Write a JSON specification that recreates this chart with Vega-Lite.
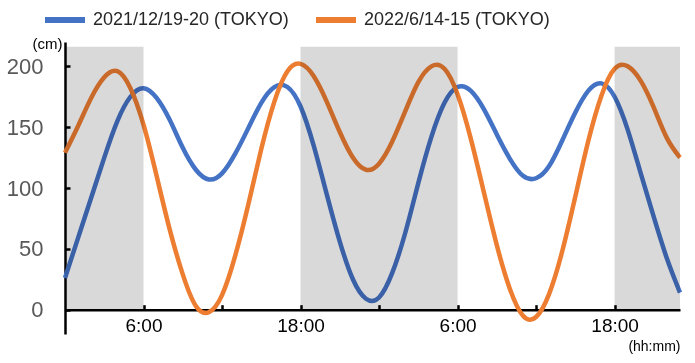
{
  "$schema": "https://vega.github.io/schema/vega-lite/v6.json",
  "width": 615,
  "height": 292,
  "autosize": {"type": "none"},
  "padding": {"left": 65, "top": 42, "right": 15, "bottom": 29},
  "config": {
    "font": "Liberation Sans",
    "view": {"stroke": null},
    "axis": {"grid": false, "zindex": 1}
  },
  "layer": [
    {
      "data": {
        "values": [
          {"hour": 0, "series": "2021/12/19-20 (TOKYO)", "cm": 26},
          {"hour": 1, "series": "2021/12/19-20 (TOKYO)", "cm": 59},
          {"hour": 2, "series": "2021/12/19-20 (TOKYO)", "cm": 92},
          {"hour": 3, "series": "2021/12/19-20 (TOKYO)", "cm": 125},
          {"hour": 4, "series": "2021/12/19-20 (TOKYO)", "cm": 155},
          {"hour": 5, "series": "2021/12/19-20 (TOKYO)", "cm": 175},
          {"hour": 6, "series": "2021/12/19-20 (TOKYO)", "cm": 182},
          {"hour": 7, "series": "2021/12/19-20 (TOKYO)", "cm": 174},
          {"hour": 8, "series": "2021/12/19-20 (TOKYO)", "cm": 156},
          {"hour": 9, "series": "2021/12/19-20 (TOKYO)", "cm": 133},
          {"hour": 10, "series": "2021/12/19-20 (TOKYO)", "cm": 115},
          {"hour": 11, "series": "2021/12/19-20 (TOKYO)", "cm": 107},
          {"hour": 12, "series": "2021/12/19-20 (TOKYO)", "cm": 112},
          {"hour": 13, "series": "2021/12/19-20 (TOKYO)", "cm": 128},
          {"hour": 14, "series": "2021/12/19-20 (TOKYO)", "cm": 149},
          {"hour": 15, "series": "2021/12/19-20 (TOKYO)", "cm": 170},
          {"hour": 16, "series": "2021/12/19-20 (TOKYO)", "cm": 183},
          {"hour": 17, "series": "2021/12/19-20 (TOKYO)", "cm": 183},
          {"hour": 18, "series": "2021/12/19-20 (TOKYO)", "cm": 167},
          {"hour": 19, "series": "2021/12/19-20 (TOKYO)", "cm": 135},
          {"hour": 20, "series": "2021/12/19-20 (TOKYO)", "cm": 95},
          {"hour": 21, "series": "2021/12/19-20 (TOKYO)", "cm": 56},
          {"hour": 22, "series": "2021/12/19-20 (TOKYO)", "cm": 25},
          {"hour": 23, "series": "2021/12/19-20 (TOKYO)", "cm": 9},
          {"hour": 24, "series": "2021/12/19-20 (TOKYO)", "cm": 10},
          {"hour": 25, "series": "2021/12/19-20 (TOKYO)", "cm": 30},
          {"hour": 26, "series": "2021/12/19-20 (TOKYO)", "cm": 63},
          {"hour": 27, "series": "2021/12/19-20 (TOKYO)", "cm": 104},
          {"hour": 28, "series": "2021/12/19-20 (TOKYO)", "cm": 142},
          {"hour": 29, "series": "2021/12/19-20 (TOKYO)", "cm": 170},
          {"hour": 30, "series": "2021/12/19-20 (TOKYO)", "cm": 183},
          {"hour": 31, "series": "2021/12/19-20 (TOKYO)", "cm": 180},
          {"hour": 32, "series": "2021/12/19-20 (TOKYO)", "cm": 165},
          {"hour": 33, "series": "2021/12/19-20 (TOKYO)", "cm": 144},
          {"hour": 34, "series": "2021/12/19-20 (TOKYO)", "cm": 124},
          {"hour": 35, "series": "2021/12/19-20 (TOKYO)", "cm": 110},
          {"hour": 36, "series": "2021/12/19-20 (TOKYO)", "cm": 108},
          {"hour": 37, "series": "2021/12/19-20 (TOKYO)", "cm": 118},
          {"hour": 38, "series": "2021/12/19-20 (TOKYO)", "cm": 139},
          {"hour": 39, "series": "2021/12/19-20 (TOKYO)", "cm": 162},
          {"hour": 40, "series": "2021/12/19-20 (TOKYO)", "cm": 180},
          {"hour": 41, "series": "2021/12/19-20 (TOKYO)", "cm": 186},
          {"hour": 42, "series": "2021/12/19-20 (TOKYO)", "cm": 175},
          {"hour": 43, "series": "2021/12/19-20 (TOKYO)", "cm": 148},
          {"hour": 44, "series": "2021/12/19-20 (TOKYO)", "cm": 112},
          {"hour": 45, "series": "2021/12/19-20 (TOKYO)", "cm": 76},
          {"hour": 46, "series": "2021/12/19-20 (TOKYO)", "cm": 42},
          {"hour": 47, "series": "2021/12/19-20 (TOKYO)", "cm": 14},
          {"hour": 0, "series": "2022/6/14-15 (TOKYO)", "cm": 129},
          {"hour": 1, "series": "2022/6/14-15 (TOKYO)", "cm": 151},
          {"hour": 2, "series": "2022/6/14-15 (TOKYO)", "cm": 174},
          {"hour": 3, "series": "2022/6/14-15 (TOKYO)", "cm": 191},
          {"hour": 4, "series": "2022/6/14-15 (TOKYO)", "cm": 196},
          {"hour": 5, "series": "2022/6/14-15 (TOKYO)", "cm": 182},
          {"hour": 6, "series": "2022/6/14-15 (TOKYO)", "cm": 152},
          {"hour": 7, "series": "2022/6/14-15 (TOKYO)", "cm": 110},
          {"hour": 8, "series": "2022/6/14-15 (TOKYO)", "cm": 66},
          {"hour": 9, "series": "2022/6/14-15 (TOKYO)", "cm": 29},
          {"hour": 10, "series": "2022/6/14-15 (TOKYO)", "cm": 3},
          {"hour": 11, "series": "2022/6/14-15 (TOKYO)", "cm": -2},
          {"hour": 12, "series": "2022/6/14-15 (TOKYO)", "cm": 12},
          {"hour": 13, "series": "2022/6/14-15 (TOKYO)", "cm": 44},
          {"hour": 14, "series": "2022/6/14-15 (TOKYO)", "cm": 86},
          {"hour": 15, "series": "2022/6/14-15 (TOKYO)", "cm": 132},
          {"hour": 16, "series": "2022/6/14-15 (TOKYO)", "cm": 171},
          {"hour": 17, "series": "2022/6/14-15 (TOKYO)", "cm": 196},
          {"hour": 18, "series": "2022/6/14-15 (TOKYO)", "cm": 202},
          {"hour": 19, "series": "2022/6/14-15 (TOKYO)", "cm": 192},
          {"hour": 20, "series": "2022/6/14-15 (TOKYO)", "cm": 171},
          {"hour": 21, "series": "2022/6/14-15 (TOKYO)", "cm": 146},
          {"hour": 22, "series": "2022/6/14-15 (TOKYO)", "cm": 125},
          {"hour": 23, "series": "2022/6/14-15 (TOKYO)", "cm": 115},
          {"hour": 24, "series": "2022/6/14-15 (TOKYO)", "cm": 120},
          {"hour": 25, "series": "2022/6/14-15 (TOKYO)", "cm": 138},
          {"hour": 26, "series": "2022/6/14-15 (TOKYO)", "cm": 163},
          {"hour": 27, "series": "2022/6/14-15 (TOKYO)", "cm": 187},
          {"hour": 28, "series": "2022/6/14-15 (TOKYO)", "cm": 200},
          {"hour": 29, "series": "2022/6/14-15 (TOKYO)", "cm": 198},
          {"hour": 30, "series": "2022/6/14-15 (TOKYO)", "cm": 177},
          {"hour": 31, "series": "2022/6/14-15 (TOKYO)", "cm": 141},
          {"hour": 32, "series": "2022/6/14-15 (TOKYO)", "cm": 97},
          {"hour": 33, "series": "2022/6/14-15 (TOKYO)", "cm": 53},
          {"hour": 34, "series": "2022/6/14-15 (TOKYO)", "cm": 17},
          {"hour": 35, "series": "2022/6/14-15 (TOKYO)", "cm": -5},
          {"hour": 36, "series": "2022/6/14-15 (TOKYO)", "cm": -6},
          {"hour": 37, "series": "2022/6/14-15 (TOKYO)", "cm": 13},
          {"hour": 38, "series": "2022/6/14-15 (TOKYO)", "cm": 48},
          {"hour": 39, "series": "2022/6/14-15 (TOKYO)", "cm": 93},
          {"hour": 40, "series": "2022/6/14-15 (TOKYO)", "cm": 139},
          {"hour": 41, "series": "2022/6/14-15 (TOKYO)", "cm": 176},
          {"hour": 42, "series": "2022/6/14-15 (TOKYO)", "cm": 198},
          {"hour": 43, "series": "2022/6/14-15 (TOKYO)", "cm": 200},
          {"hour": 44, "series": "2022/6/14-15 (TOKYO)", "cm": 188},
          {"hour": 45, "series": "2022/6/14-15 (TOKYO)", "cm": 166},
          {"hour": 46, "series": "2022/6/14-15 (TOKYO)", "cm": 141},
          {"hour": 47, "series": "2022/6/14-15 (TOKYO)", "cm": 125}
        ]
      },
      "mark": {"type": "line", "interpolate": "natural", "strokeWidth": 4.5},
      "encoding": {
        "x": {
          "field": "hour",
          "type": "quantitative",
          "scale": {"domain": [0, 47], "nice": false, "zero": false},
          "axis": {
            "orient": "bottom",
            "offset": -24.33,
            "values": [6, 12, 18, 24, 30, 36, 42],
            "labelExpr": "datum.value % 12 == 6 ? (datum.value % 24) + ':00' : ''",
            "labelOverlap": false,
            "labelFlush": false,
            "domainColor": "#000000",
            "domainWidth": 2.5,
            "tickColor": "#000000",
            "tickWidth": 2.5,
            "tickSize": -5,
            "labelFontSize": 19,
            "labelColor": "#000000",
            "labelPadding": 12,
            "title": "(hh:mm)",
            "titleFontSize": 14,
            "titleFontWeight": "normal",
            "titleColor": "#000000",
            "titleAlign": "right",
            "titleBaseline": "middle",
            "titleX": 615,
            "titleY": 37
          }
        },
        "y": {
          "field": "cm",
          "type": "quantitative",
          "scale": {"domain": [-20, 220], "nice": false, "zero": false},
          "axis": {
            "orient": "left",
            "values": [0, 50, 100, 150, 200],
            "domainColor": "#000000",
            "domainWidth": 2.5,
            "tickColor": "#000000",
            "tickWidth": 2.5,
            "tickSize": -5,
            "labelFontSize": 22,
            "labelColor": "#595959",
            "labelPadding": 27,
            "title": "(cm)",
            "titleAngle": 0,
            "titleFontSize": 15,
            "titleFontWeight": "normal",
            "titleColor": "#000000",
            "titleAlign": "center",
            "titleBaseline": "middle",
            "titleX": -18,
            "titleY": 1
          }
        },
        "color": {
          "field": "series",
          "type": "nominal",
          "scale": {
            "domain": ["2021/12/19-20 (TOKYO)", "2022/6/14-15 (TOKYO)"],
            "range": ["#4472C4", "#ED7D31"]
          },
          "legend": {
            "orient": "none",
            "legendX": -23,
            "legendY": -45,
            "direction": "horizontal",
            "title": null,
            "symbolType": "stroke",
            "symbolSize": 1600,
            "symbolStrokeWidth": 6,
            "labelFontSize": 18,
            "labelLimit": 0,
            "labelColor": "#262626",
            "labelOffset": 5,
            "columnPadding": 15,
            "padding": 0
          }
        }
      }
    },
    {
      "data": {
        "values": [
          {"from": 0, "to": 6},
          {"from": 18, "to": 30},
          {"from": 42, "to": 47}
        ]
      },
      "mark": {"type": "rect", "fill": "#D9D9D9", "blend": "multiply"},
      "encoding": {
        "x": {"field": "from", "type": "quantitative"},
        "x2": {"field": "to"},
        "y": {"datum": 0},
        "y2": {"datum": 216}
      }
    }
  ]
}
